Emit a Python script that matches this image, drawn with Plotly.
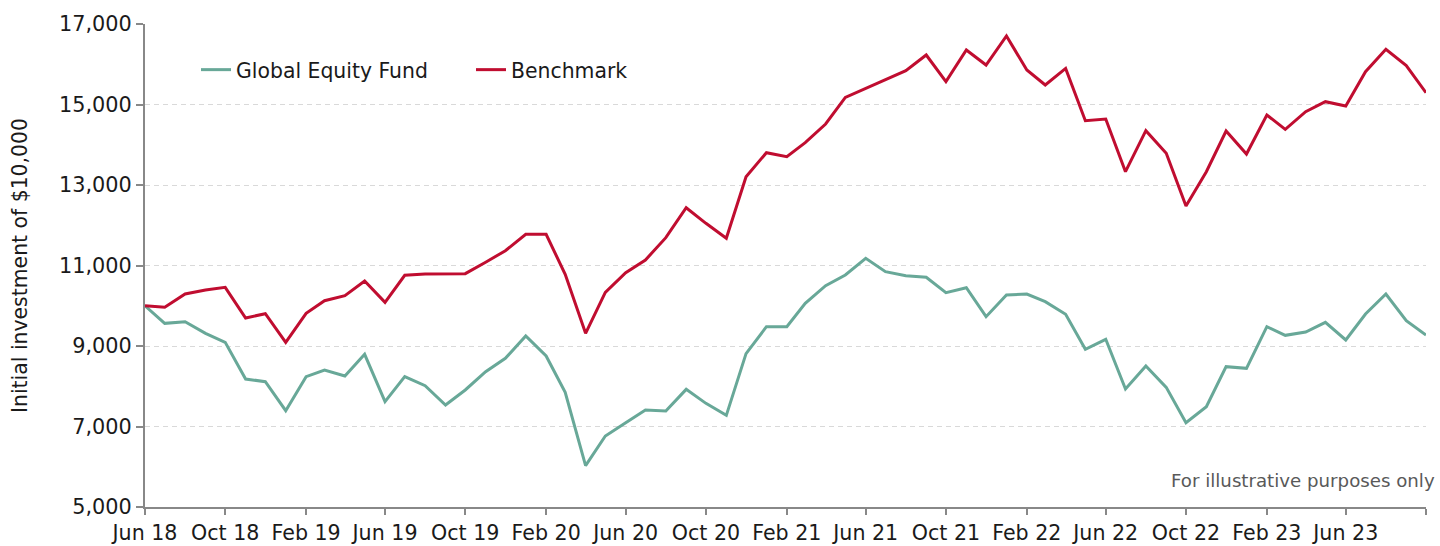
import pandas as pd
import plotly.graph_objects as go

months = pd.date_range("2018-06-01", periods=65, freq="MS")

fund = [10000, 9563, 9604, 9315, 9091, 8180, 8114, 7393, 8238, 8404, 8254, 8793, 7617, 8238, 8014, 7534,
        7907, 8362, 8694, 9248, 8751, 7849, 6026, 6764, 7095, 7410, 7385, 7923, 7575, 7277, 8810, 9480,
        9480, 10060, 10498, 10764, 11178, 10847, 10747, 10706, 10325, 10449, 9729, 10267, 10292, 10101, 9790, 8917,
        9166, 7932, 8503, 7973, 7095, 7492, 8486, 8445, 9480, 9265, 9348, 9588, 9149, 9795, 10292, 9629, 9273]

benchmark = [10000, 9961, 10292, 10391, 10457, 9696, 9803, 9091, 9811, 10126, 10250, 10615, 10085, 10756, 10789, 10797,
             10797, 11080, 11368, 11775, 11775, 10781, 9315, 10334, 10821, 11137, 11691, 12436, 12048, 11675, 13207, 13803,
             13703, 14051, 14516, 15178, 15402, 15625, 15841, 16230, 15567, 16354, 15981, 16702, 15857, 15484, 15898, 14598,
             14640, 13331, 14350, 13787, 12478, 13331, 14342, 13770, 14739, 14383, 14822, 15070, 14963, 15816, 16371, 15965, 15294]

series_names = ["Global Equity Fund", "Benchmark"]
y_ticks = [5000, 7000, 9000, 11000, 13000, 15000, 17000]

FONT = "DejaVu Sans"
GREEN = "#68a898"
RED = "#c00d30"
AXIS = "#888888"
TXT = "#1a1a1a"

fig = go.Figure()
fig.add_trace(go.Scatter(x=months, y=fund, mode="lines", name=series_names[0],
                         line=dict(color=GREEN, width=3)))
fig.add_trace(go.Scatter(x=months, y=benchmark, mode="lines", name=series_names[1],
                         line=dict(color=RED, width=3)))

fig.update_layout(
    width=1440, height=546,
    margin=dict(l=145, r=14, t=24, b=39),
    paper_bgcolor="white", plot_bgcolor="white",
    font=dict(family=FONT, size=20, color=TXT),
    showlegend=True,
    legend=dict(orientation="h", x=(196 - 145) / 1281, y=0.905, xanchor="left", yanchor="middle",
                font=dict(family=FONT, size=20.4, color=TXT),
                bgcolor="rgba(0,0,0,0)", itemwidth=30,
                entrywidth=230, entrywidthmode="pixels"),
    annotations=[dict(text="For illustrative purposes only", xref="paper", yref="paper",
                      x=(1437 - 145) / 1281, y=0.054, xanchor="right", yanchor="middle", showarrow=False,
                      font=dict(family=FONT, size=18.2, color="#595959"))],
)

fig.update_xaxes(
    type="date", automargin=False,
    range=[months[0], months[-1]],
    tick0="2018-06-01", dtick="M4", tickformat="%b %y",
    showgrid=False, zeroline=False,
    showline=True, linecolor=AXIS, linewidth=2,
    ticks="outside", ticklen=6, tickwidth=2, tickcolor=AXIS,
    tickfont=dict(family=FONT, size=20.6, color=TXT),
)
fig.update_yaxes(
    automargin=False,
    range=[5000, 17000],
    tickvals=y_ticks, tickformat=",d",
    showgrid=True, gridcolor="#d9d9d9", gridwidth=1, griddash="5px,4px",
    zeroline=False,
    showline=True, linecolor=AXIS, linewidth=2,
    ticks="outside", ticklen=7, tickwidth=2, tickcolor=AXIS,
    tickfont=dict(family=FONT, size=20.8, color=TXT),
    title=dict(text="Initial investment of $10,000", standoff=26,
               font=dict(family=FONT, size=20.4, color=TXT)),
)

fig.write_html("out.html", config={"displayModeBar": False},
               post_script="document.body.style.margin='0';")
